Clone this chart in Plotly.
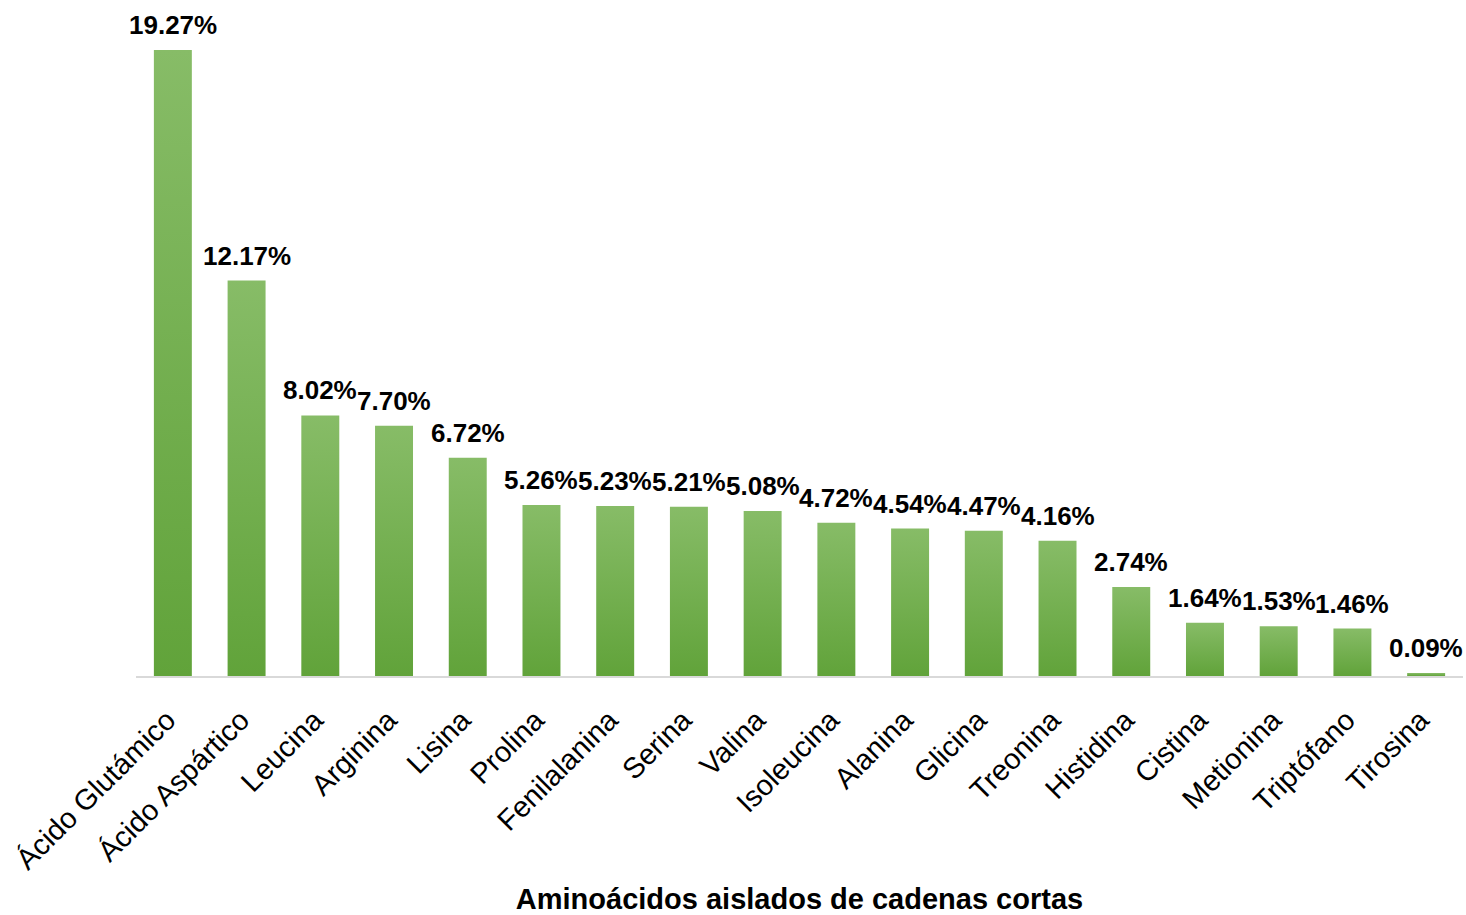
import plotly.graph_objects as go

categories = ["Ácido Glutámico", "Ácido Aspártico", "Leucina", "Arginina", "Lisina",
              "Prolina", "Fenilalanina", "Serina", "Valina", "Isoleucina", "Alanina",
              "Glicina", "Treonina", "Histidina", "Cistina", "Metionina", "Triptófano",
              "Tirosina"]
values = [19.27, 12.17, 8.02, 7.70, 6.72, 5.26, 5.23, 5.21, 5.08, 4.72, 4.54,
          4.47, 4.16, 2.74, 1.64, 1.53, 1.46, 0.09]
labels = [f"{v:.2f}%" for v in values]
x_title = "Aminoácidos aislados de cadenas cortas"

BAR_W = 0.515
COL_BOTTOM = "#61a33a"
COL_TOP = "#87bc67"
FONT = "Liberation Sans, Arial, sans-serif"

fig = go.Figure()
for i, v in enumerate(values):
    x0, x1 = i - BAR_W / 2, i + BAR_W / 2
    fig.add_trace(go.Scatter(
        x=[x0, x1, x1, x0, x0], y=[0, 0, v, v, 0],
        mode="lines", fill="toself", line=dict(width=0),
        fillcolor="#70ad47",
        fillgradient=dict(type="vertical",
                          colorscale=[[0, COL_BOTTOM], [1, COL_TOP]]),
        hoverinfo="skip", showlegend=False,
    ))

for i, (v, t) in enumerate(zip(values, labels)):
    fig.add_annotation(x=i, y=v, text=f"<b>{t}</b>", showarrow=False,
                       yanchor="bottom", yshift=8,
                       font=dict(family=FONT, size=26, color="#000000"))

fig.update_layout(
    width=1466, height=915,
    margin=dict(l=136, r=3, t=10, b=239),
    plot_bgcolor="white", paper_bgcolor="white",
    font=dict(family=FONT, color="#000000"),
)
fig.update_xaxes(
    range=[-0.5, len(values) - 0.5],
    tickmode="array", tickvals=list(range(len(values))),
    ticktext=[c + "\u00a0" for c in categories],
    tickangle=-45, tickfont=dict(size=29, family=FONT, color="#000000"),
    ticklabelstandoff=8,
    showgrid=False, zeroline=False, showline=True, linecolor="#d9d9d9", linewidth=1.5,
    ticks="", title=dict(text=f"<b>{x_title}</b>", font=dict(size=29, family=FONT),
                         standoff=14),
)
fig.update_yaxes(range=[0, 20.5], visible=False, showgrid=False, zeroline=False)

fig.write_html("out.html")
